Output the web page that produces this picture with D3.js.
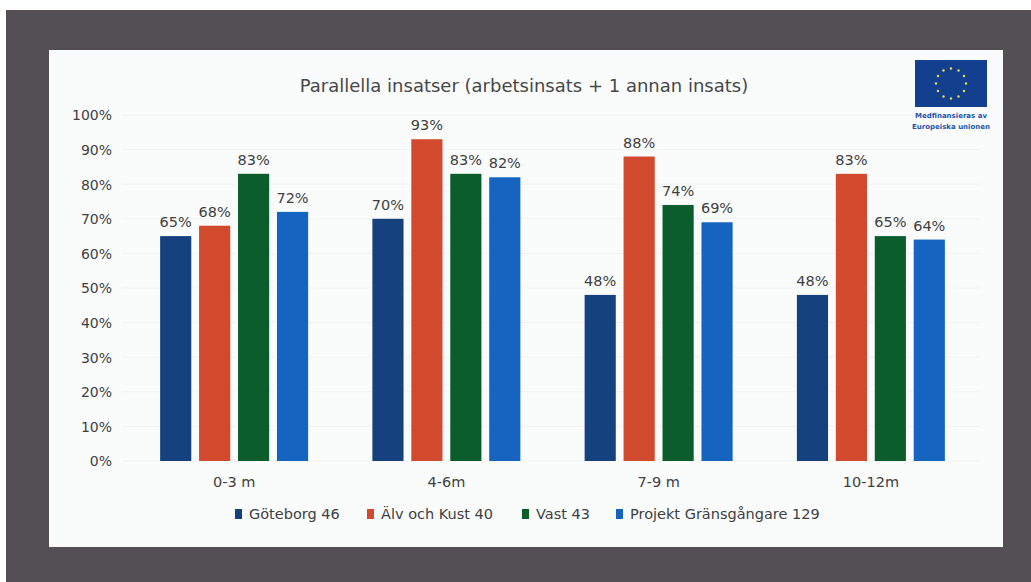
<!DOCTYPE html>
<html>
<head>
<meta charset="utf-8">
<script src="https://cdn.jsdelivr.net/npm/d3@7"></script>
<style>
body { margin: 0; background: #fff; }
</style>
</head>
<body>
<script>
var width = 1031,
    height = 582;

var categories = ["0-3 m", "4-6m", "7-9 m", "10-12m"];
var series = ["Göteborg 46", "Älv och Kust 40", "Vast 43", "Projekt Gränsgångare 129"];
var colors = ["#15427f", "#d14a2e", "#0b5e2c", "#1565c0"];
// one row per category: [Göteborg, Älv, Vast, Projekt]
var values = [
    [65, 68, 83, 72],
    [70, 93, 83, 82],
    [48, 88, 74, 69],
    [48, 83, 65, 64]
];
var yTicks = [0, 10, 20, 30, 40, 50, 60, 70, 80, 90, 100];

var font = "'DejaVu Sans', sans-serif";
var ink = "#404040";

var svg = d3.select("body").append("svg")
    .attr("width", width)
    .attr("height", height);

// outer dark frame + white panel
svg.append("rect").attr("x", 0).attr("y", 0).attr("width", width).attr("height", height).attr("fill", "#fdfefe");
svg.append("rect").attr("x", 6).attr("y", 10).attr("width", width - 6).attr("height", height - 10).attr("fill", "#544e55");
svg.append("rect").attr("x", 49).attr("y", 50).attr("width", 954).attr("height", 497).attr("fill", "#fafcfc");

var x0 = d3.scaleBand().domain(categories).range([128, 977]);
var x1 = d3.scaleBand().domain(series).range([-74, 74]).paddingInner(0.2);
var y = d3.scaleLinear().domain([0, 100]).range([461, 115]);

// title
svg.append("text")
    .attr("x", 524).attr("y", 92)
    .attr("text-anchor", "middle")
    .style("font-family", font).style("font-size", "18px").style("fill", "#474747")
    .text("Parallella insatser (arbetsinsats + 1 annan insats)");

// faint gridlines
svg.append("g").selectAll("line")
    .data(yTicks)
    .enter().append("line")
    .attr("x1", 122).attr("x2", 980)
    .attr("y1", function(d) { return y(d); })
    .attr("y2", function(d) { return y(d); })
    .attr("stroke", "#f1f3f3");

// y axis
var yAxis = svg.append("g")
    .attr("transform", "translate(112,0)")
    .call(d3.axisLeft(y).tickValues(yTicks).tickSize(0).tickPadding(0).tickFormat(function(d) { return d + "%"; }));
yAxis.select(".domain").remove();
yAxis.selectAll("text")
    .attr("dy", "0.35em")
    .style("font-family", font).style("font-size", "14px").style("fill", ink);

// x axis
var xAxis = svg.append("g")
    .attr("transform", "translate(0,461)")
    .call(d3.axisBottom(x0).tickSize(0).tickPadding(16));
xAxis.select(".domain").remove();
xAxis.selectAll("text")
    .style("font-family", font).style("font-size", "14.5px").style("fill", ink);

// bars
var groups = svg.append("g").selectAll("g")
    .data(categories)
    .enter().append("g")
    .attr("transform", function(d) { return "translate(" + (x0(d) + x0.bandwidth() / 2) + ",0)"; });

var cells = groups.selectAll("g")
    .data(function(d, i) { return values[i].map(function(v, j) { return {s: series[j], v: v, c: colors[j]}; }); })
    .enter().append("g");

cells.append("rect")
    .attr("x", function(d) { return x1(d.s); })
    .attr("y", function(d) { return y(d.v); })
    .attr("width", x1.bandwidth())
    .attr("height", function(d) { return y(0) - y(d.v); })
    .attr("fill", function(d) { return d.c; });

cells.append("text")
    .attr("x", function(d) { return x1(d.s) + x1.bandwidth() / 2; })
    .attr("y", function(d) { return y(d.v) - 9; })
    .attr("text-anchor", "middle")
    .style("font-family", font).style("font-size", "14.5px").style("fill", ink)
    .text(function(d) { return d.v + "%"; });

// legend
var legendX = [235, 367, 522, 616];
var legend = svg.append("g").selectAll("g")
    .data(series)
    .enter().append("g")
    .attr("transform", function(d, i) { return "translate(" + legendX[i] + ",514)"; });
legend.append("rect")
    .attr("x", 0).attr("y", -5).attr("width", 7).attr("height", 10)
    .attr("fill", function(d, i) { return colors[i]; });
legend.append("text")
    .attr("x", 14).attr("y", 0).attr("dy", "0.35em")
    .style("font-family", font).style("font-size", "14.5px").style("fill", ink)
    .text(function(d) { return d; });

// EU emblem
var eu = svg.append("g").attr("transform", "translate(915,60)");
eu.append("rect").attr("width", 72).attr("height", 47).attr("fill", "#133f8f");
eu.selectAll("circle")
    .data(d3.range(12))
    .enter().append("circle")
    .attr("cx", function(d) { return 36 + 15 * Math.cos(d * Math.PI / 6); })
    .attr("cy", function(d) { return 23.5 + 15 * Math.sin(d * Math.PI / 6); })
    .attr("r", 1.2)
    .attr("fill", "#f0d84a");
eu.append("text")
    .attr("x", 36).attr("y", 58)
    .attr("text-anchor", "middle")
    .style("font-family", font).style("font-size", "7px").style("font-weight", "bold").style("fill", "#1d55a8")
    .text("Medfinansieras av");
eu.append("text")
    .attr("x", 36).attr("y", 69)
    .attr("text-anchor", "middle")
    .style("font-family", font).style("font-size", "7px").style("font-weight", "bold").style("fill", "#1d55a8")
    .text("Europeiska unionen");
</script>
</body>
</html>
